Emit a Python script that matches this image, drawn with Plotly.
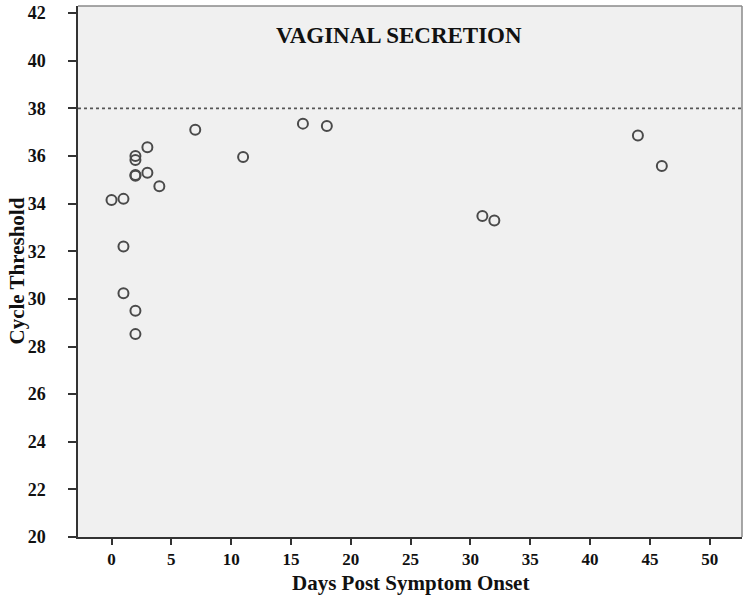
import plotly.graph_objects as go

days = [0, 1, 1, 1, 2, 2, 2, 2, 2, 2, 3, 3, 4, 7, 11, 16, 18, 31, 32, 44, 46]
ct = [34.15, 34.2, 32.2, 30.24, 29.5, 28.52, 36.0, 35.83, 35.2, 35.17, 36.37, 35.3,
      34.73, 37.1, 35.96, 37.36, 37.26, 33.48, 33.29, 36.86, 35.58]
threshold = 38
x_ticks = [0, 5, 10, 15, 20, 25, 30, 35, 40, 45, 50]
y_ticks = [20, 22, 24, 26, 28, 30, 32, 34, 36, 38, 40, 42]
title_text = "VAGINAL SECRETION"
x_title = "Days Post Symptom Onset"
y_title = "Cycle Threshold"

serif = "Liberation Serif"
W, H = 750, 601
ML, MR, MT, MB = 78, 8, 6, 64

fig = go.Figure()
fig.add_trace(go.Scatter(
    x=days, y=ct, mode="markers",
    marker=dict(symbol="circle-open", size=10, color="#4a4a4a", line=dict(width=2, color="#4a4a4a")),
    showlegend=False, hoverinfo="x+y"))

fig.add_shape(type="line", xref="paper", x0=0, x1=1, yref="y", y0=threshold, y1=threshold,
              line=dict(color="#555555", width=1.6, dash="dot"))
# top/right frame
fig.add_shape(type="line", xref="paper", yref="paper", x0=0, x1=1, y0=1, y1=1,
              line=dict(color="#8a8a8a", width=1.5))
fig.add_shape(type="line", xref="paper", yref="paper", x0=1, x1=1, y0=0, y1=1,
              line=dict(color="#8a8a8a", width=1.5))

fig.add_annotation(x=24, y=41.05, xref="x", yref="y", text=title_text, showarrow=False,
                   font=dict(family=serif, size=23, color="#111111", weight="bold"))

plot_w = W - ML - MR
plot_h = H - MT - MB
# axis titles (positions given in pixels, converted to paper coordinates)
fig.add_annotation(x=0.5, y=-(583 - (H - MB)) / plot_h, xref="paper", yref="paper",
                   text=x_title, showarrow=False, yanchor="middle",
                   font=dict(family=serif, size=21, color="#111111", weight="bold"))
fig.add_annotation(x=-(ML - 16) / plot_w, y=0.5, xref="paper", yref="paper",
                   text=y_title, textangle=-90, showarrow=False, xanchor="center",
                   font=dict(family=serif, size=21, color="#111111", weight="bold"))

fig.update_layout(
    width=W, height=H,
    margin=dict(l=ML, r=MR, t=MT, b=MB),
    paper_bgcolor="white", plot_bgcolor="#f0f0f0",
    font=dict(family=serif, color="#111111"),
    xaxis=dict(range=[-2.8, 52.7], tickvals=x_ticks, ticks="outside", ticklen=6, tickwidth=1.5,
               tickcolor="#333333", showline=True, linecolor="#333333", linewidth=1.5,
               showgrid=False, zeroline=False, automargin=False,
               tickfont=dict(family=serif, size=17, weight="bold", color="#111111")),
    yaxis=dict(range=[20, 42.3], tickvals=y_ticks, ticks="outside", ticklen=8, tickwidth=1.5,
               tickcolor="#333333", showline=True, linecolor="#333333", linewidth=1.5,
               showgrid=False, zeroline=False, ticklabelstandoff=19, automargin=False,
               tickfont=dict(family=serif, size=18, weight="bold", color="#111111")),
)

fig.write_html("out.html", config={"displayModeBar": False},
               post_script="document.body.style.margin='0';document.body.style.overflow='hidden';")
